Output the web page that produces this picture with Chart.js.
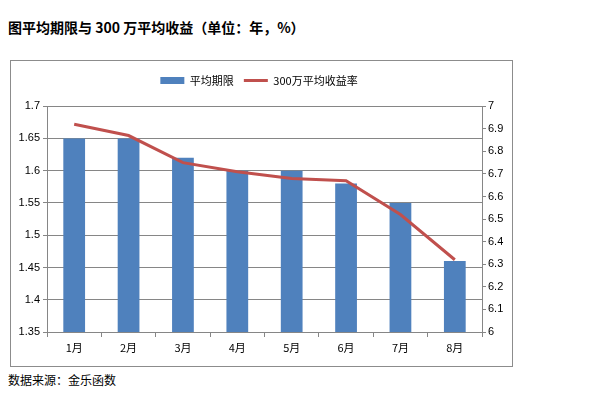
<!DOCTYPE html>
<html>
<head>
<meta charset="utf-8">
<script src="https://cdn.jsdelivr.net/npm/chart.js@4"></script>
<style>
  body { margin: 0; background: #fff; width: 604px; height: 397px; position: relative; font-family: "Noto Sans CJK SC", sans-serif; }
  #title { position: absolute; left: 8px; top: 17px; font-size: 14px; font-weight: bold; color: #000; white-space: nowrap; }
  #box { position: absolute; left: 10px; top: 60px; width: 503px; height: 307px; border: 1px solid #8c8c8c; box-sizing: border-box; }
  #box canvas { position: absolute; left: 0; top: 0; }
  #source { position: absolute; left: 8px; top: 371px; font-size: 12px; color: #000; white-space: nowrap; }
</style>
</head>
<body>
<div id="title">图平均期限与 300 万平均收益（单位：年，%）</div>
<div id="box"><canvas id="myChart" width="501" height="305"></canvas></div>
<div id="source">数据来源：金乐函数</div>
<script>
const months = ["1月", "2月", "3月", "4月", "5月", "6月", "7月", "8月"]
const avgTerm = [1.65, 1.65, 1.62, 1.60, 1.60, 1.58, 1.55, 1.46]
const yieldRate = [6.92, 6.87, 6.75, 6.71, 6.68, 6.67, 6.52, 6.32]
const seriesNames = ["平均期限", "300万平均收益率"]

const barColor = "#4F81BD"
const lineColor = "#C0504D"
const gridColor = "#868686"
const tickFont = { family: "'Liberation Sans', 'Noto Sans CJK SC', sans-serif", size: 11 }
const cjkFont = { family: "'Noto Sans CJK SC', sans-serif", size: 11 }

// drop trailing zeros: 1.70 -> 1.7, 7.0 -> 7
function shortNum(value) {
  return String(Number(value.toFixed(2)))
}

new Chart("myChart", {
  data: {
    labels: months,
    datasets: [
      {
        type: "line",
        label: seriesNames[1],
        data: yieldRate,
        yAxisID: "y1",
        borderColor: lineColor,
        borderWidth: 3,
        pointRadius: 0,
        tension: 0,
        order: 0
      },
      {
        type: "bar",
        label: seriesNames[0],
        data: avgTerm,
        yAxisID: "y",
        backgroundColor: barColor,
        barPercentage: 0.4,
        categoryPercentage: 1,
        order: 1
      }
    ]
  },
  options: {
    responsive: false,
    animation: false,
    layout: { padding: { top: 4, right: 5, bottom: 0, left: 0 } },
    plugins: {
      tooltip: { enabled: false },
      // empty spacer between legend and plot
      subtitle: { display: true, text: "", weight: 500, font: { size: 1 }, padding: { top: 0, bottom: 9 } },
      legend: {
        position: "top",
        labels: {
          font: cjkFont,
          color: "#000",
          padding: 10,
          usePointStyle: true,
          pointStyleWidth: 24,
          boxHeight: 7,
          generateLabels: function(chart) {
            return [
              { text: seriesNames[0], pointStyle: "rect", fillStyle: barColor, strokeStyle: barColor, lineWidth: 0, datasetIndex: 1 },
              { text: seriesNames[1], pointStyle: "line", fillStyle: lineColor, strokeStyle: lineColor, lineWidth: 3, datasetIndex: 0 }
            ]
          }
        }
      }
    },
    scales: {
      x: {
        offset: true,
        grid: { offset: true, drawOnChartArea: false, color: gridColor, tickLength: 5 },
        border: { color: gridColor },
        ticks: { font: cjkFont, color: "#000", padding: 4, maxRotation: 0 },
        afterFit: function(scale) { scale.height = 34 }
      },
      y: {
        position: "left",
        min: 1.35,
        max: 1.7,
        ticks: { stepSize: 0.05, font: tickFont, color: "#000", padding: 3, callback: shortNum },
        grid: { color: gridColor, tickLength: 4 },
        border: { color: gridColor },
        afterFit: function(scale) { scale.width = 36 }
      },
      y1: {
        position: "right",
        min: 6,
        max: 7,
        ticks: { stepSize: 0.1, font: tickFont, color: "#000", padding: 2, callback: shortNum },
        grid: { drawOnChartArea: false, color: gridColor, tickLength: 4 },
        border: { color: gridColor },
        afterFit: function(scale) { scale.width = 25 }
      }
    }
  }
})
</script>
</body>
</html>
